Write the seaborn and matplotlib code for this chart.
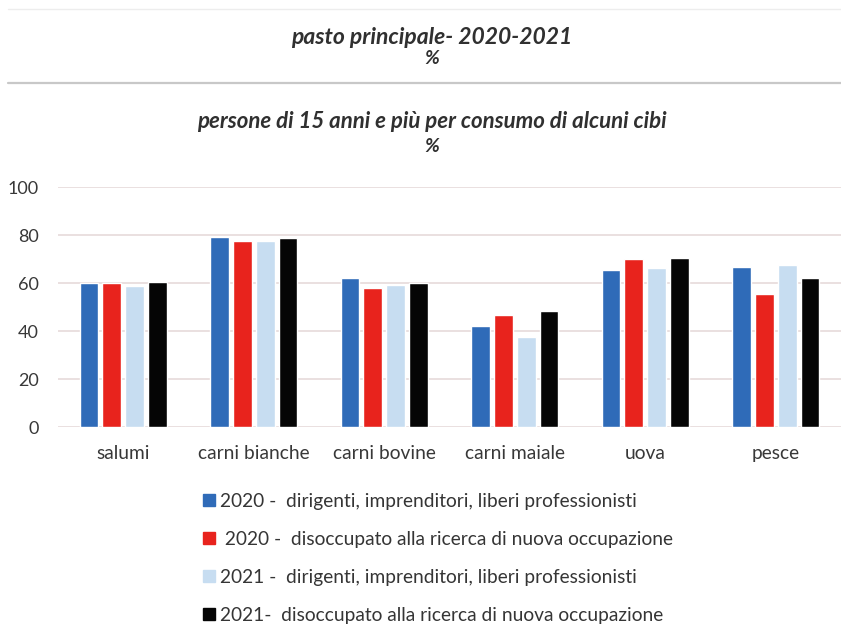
import matplotlib
matplotlib.use("Agg")
import matplotlib.pyplot as plt
import seaborn as sns
import pandas as pd
from matplotlib.lines import Line2D

categories = ["salumi", "carni bianche", "carni bovine", "carni maiale", "uova", "pesce"]
series_labels = [
    "2020 -  dirigenti, imprenditori, liberi professionisti",
    " 2020 -  disoccupato alla ricerca di nuova occupazione",
    "2021 -  dirigenti, imprenditori, liberi professionisti",
    "2021-  disoccupato alla ricerca di nuova occupazione",
]
dir_2020 = [60.0, 79.2, 62.2, 41.9, 65.3, 66.8]
dis_2020 = [60.0, 77.5, 58.1, 46.8, 70.1, 55.3]
dir_2021 = [58.7, 77.6, 59.0, 37.5, 66.1, 67.4]
dis_2021 = [60.4, 78.9, 60.0, 48.3, 70.6, 62.2]
y_ticks = [0, 20, 40, 60, 80, 100]

title1 = "pasto principale- 2020-2021"
title2 = "persone di 15 anni e più per consumo di alcuni cibi"

colors = ["#2F6BB8", "#E8231D", "#C7DDF1", "#050505"]

rows = []
for lab, vals in zip(series_labels, [dir_2020, dis_2020, dir_2021, dis_2021]):
    for c, v in zip(categories, vals):
        rows.append({"cat": c, "serie": lab, "val": v})
df = pd.DataFrame(rows)

sns.set_theme(style="white")
plt.rcParams["font.family"] = ["Lato", "DejaVu Sans"]

fig = plt.figure(figsize=(8.41, 6.4), dpi=100)
ax = fig.add_axes([58 / 841, 1 - 427 / 640, 1 - 58 / 841, 240 / 640])

sns.barplot(data=df, x="cat", y="val", hue="serie", order=categories,
            hue_order=series_labels, palette=colors, width=0.7, gap=0.17,
            saturation=1, legend=False, ax=ax, errorbar=None)

ax.set_ylim(0, 100)
ax.set_xlim(-0.5, len(categories) - 0.5)
ax.set_yticks(y_ticks)
ax.yaxis.grid(True, color="#E6DADA", linewidth=1.2)
ax.set_axisbelow(True)
for s in ax.spines.values():
    s.set_visible(False)
ax.set_xlabel("")
ax.set_ylabel("")
ax.tick_params(axis="y", labelsize=13, labelcolor="#383838", pad=14, length=0)
ax.tick_params(axis="x", labelsize=13.8, labelcolor="#383838", pad=13, length=0)

# titles
fig.text(432 / 841, 1 - 37 / 640, title1, ha="center", va="center",
         fontsize=16.5, fontweight="bold", style="italic", color="#303030")
fig.text(432 / 841, 1 - 58 / 640, "%", ha="center", va="center",
         fontsize=14, fontweight="bold", style="italic", color="#303030")
fig.text(432 / 841, 1 - 122 / 640, title2, ha="center", va="center",
         fontsize=16, fontweight="bold", style="italic", color="#303030")
fig.text(432 / 841, 1 - 146 / 640, "%", ha="center", va="center",
         fontsize=14, fontweight="bold", style="italic", color="#303030")

# separator lines
fig.add_artist(Line2D([8 / 841, 1], [1 - 83 / 640] * 2, color="#C8C8C8", linewidth=1.6))
fig.add_artist(Line2D([8 / 841, 1], [1 - 9 / 640] * 2, color="#EDEDED", linewidth=1.0))

handles = [Line2D([], [], marker="s", linestyle="none", markersize=8,
                  markerfacecolor=c, markeredgecolor=c) for c in colors]
fig.legend(handles, series_labels, loc="upper left",
           bbox_to_anchor=(196 / 841, 1 - 485 / 640), frameon=False,
           fontsize=13.8, labelspacing=1.1, handlelength=0.6,
           handletextpad=0.25, borderaxespad=0, labelcolor="#353535")

fig.savefig("out.png", dpi=100)
